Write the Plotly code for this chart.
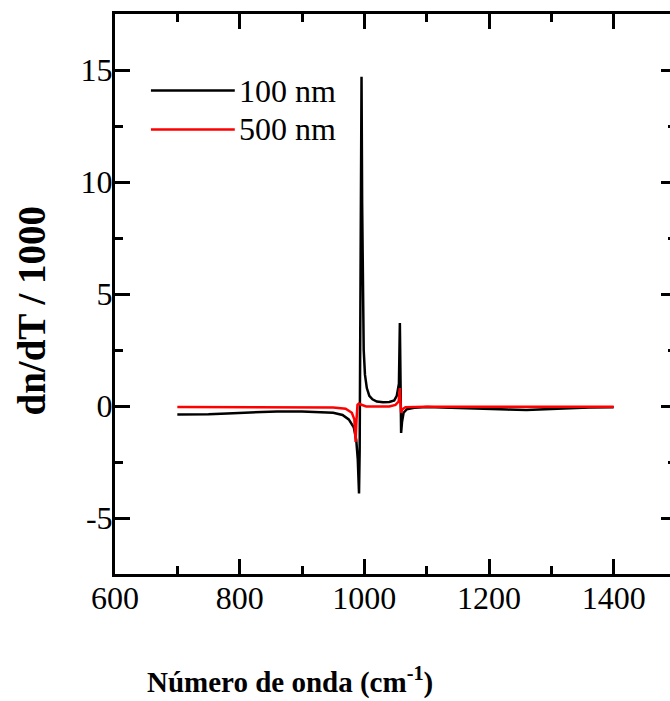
import plotly.graph_objects as go

# Wavenumber (cm^-1) and dn/dT / 1000 for the two particle sizes
wn_100 = [700, 720, 750, 780, 800, 830, 860, 900, 930, 950, 965, 975, 983, 987,
          989.5, 991.5, 992.5, 993.5, 994.5, 995.5, 996.5, 997.5, 999, 1001, 1004,
          1008, 1013, 1020, 1030, 1040, 1048, 1052, 1055.5, 1057, 1058, 1059,
          1060.5, 1063, 1068, 1080, 1100, 1150, 1200, 1230, 1260, 1290, 1320,
          1360, 1400]
dn_100 = [-0.38, -0.38, -0.37, -0.33, -0.30, -0.26, -0.24, -0.24, -0.26, -0.30,
          -0.40, -0.60, -0.95, -1.50, -2.40, -3.90, -2.00, 2.00, 8.00, 14.70,
          9.00, 5.00, 2.50, 1.40, 0.80, 0.45, 0.30, 0.20, 0.17, 0.18, 0.25, 0.45,
          1.00, 3.70, 1.50, -1.20, -0.70, -0.30, -0.15, -0.08, -0.05, -0.08,
          -0.12, -0.16, -0.18, -0.14, -0.10, -0.07, -0.06]

wn_500 = [700, 800, 900, 950, 970, 980, 984, 986, 987.5, 989, 991, 995, 1003,
          1040, 1050, 1055, 1057, 1058, 1059, 1061, 1066, 1100, 1400]
dn_500 = [-0.05, -0.05, -0.05, -0.07, -0.12, -0.30, -0.60, -1.60, -0.60, 0.05,
          0.10, 0.05, -0.02, -0.02, 0.05, 0.20, 0.80, 0.20, -0.30, -0.15, -0.05,
          -0.03, -0.03]

series_names = ["100 nm", "500 nm"]
series_colors = ["#000000", "#ff0000"]

x_range = [600, 1500]
y_range = [-7.5, 17.5]
x_ticks = [600, 800, 1000, 1200, 1400]
y_ticks = [-5, 0, 5, 10, 15]
y_tick_labels = ["-5", "0", "5", "10", "15"]

FONT = "Times New Roman, Liberation Serif, serif"
W, H = 690, 701
ML, MR, MT, MB = 115, 13, 11, 127
PW, PH = W - ML - MR, H - MT - MB


def px_x(p):
    return (p - ML) / PW


def px_y(p):
    return (H - MB - p) / PH


fig = go.Figure()
fig.add_trace(go.Scatter(x=wn_100, y=dn_100, mode="lines", name=series_names[0],
                         line=dict(color=series_colors[0], width=2.5)))
fig.add_trace(go.Scatter(x=wn_500, y=dn_500, mode="lines", name=series_names[1],
                         line=dict(color=series_colors[1], width=2.5)))

axis_common = dict(
    showline=True, linecolor="black", linewidth=3, mirror="allticks",
    ticks="inside", ticklen=15, tickwidth=3, tickcolor="black",
    showgrid=False, zeroline=False,
    tickfont=dict(family=FONT, size=32, color="black"),
)

fig.update_xaxes(range=x_range, tickvals=x_ticks, ticklabelstandoff=-6,
                 minor=dict(ticks="inside", ticklen=8, tickwidth=3,
                            tickcolor="black", dtick=100, tick0=600, showgrid=False),
                 **axis_common)
fig.update_yaxes(range=y_range, tickvals=y_ticks, ticktext=y_tick_labels,
                 ticklabelstandoff=-7,
                 minor=dict(ticks="inside", ticklen=8, tickwidth=3,
                            tickcolor="black", dtick=2.5, tick0=0, showgrid=False),
                 **axis_common)

# Legend drawn as line samples with labels
legend_rows = [88, 127]
shapes = []
annotations = []
for name, color, ypx in zip(series_names, series_colors, legend_rows):
    shapes.append(dict(type="line", xref="paper", yref="paper",
                       x0=px_x(151), x1=px_x(235), y0=px_y(ypx), y1=px_y(ypx),
                       line=dict(color=color, width=2.5)))
    annotations.append(dict(xref="paper", yref="paper", x=px_x(237), y=px_y(ypx),
                            xanchor="left", yanchor="middle", showarrow=False,
                            text=name, font=dict(family=FONT, size=32, color="black")))

annotations.append(dict(xref="paper", yref="paper", x=px_x(290), y=px_y(681),
                        xanchor="center", yanchor="middle", showarrow=False,
                        text="Número de onda (cm<sup>-1</sup>)",
                        font=dict(family=FONT, size=29, color="black", weight="bold")))
annotations.append(dict(xref="paper", yref="paper", x=px_x(31), y=px_y(309),
                        xanchor="center", yanchor="middle", showarrow=False,
                        textangle=-90, text="dn/dT / 1000",
                        font=dict(family=FONT, size=39, color="black", weight="bold")))

fig.update_layout(
    width=W, height=H,
    margin=dict(l=ML, r=MR, t=MT, b=MB),
    paper_bgcolor="white", plot_bgcolor="white",
    showlegend=False,
    shapes=shapes, annotations=annotations,
)

fig.write_html("out.html",
               post_script="document.documentElement.style.overflow='hidden';"
                           "document.body.style.overflow='hidden';")
